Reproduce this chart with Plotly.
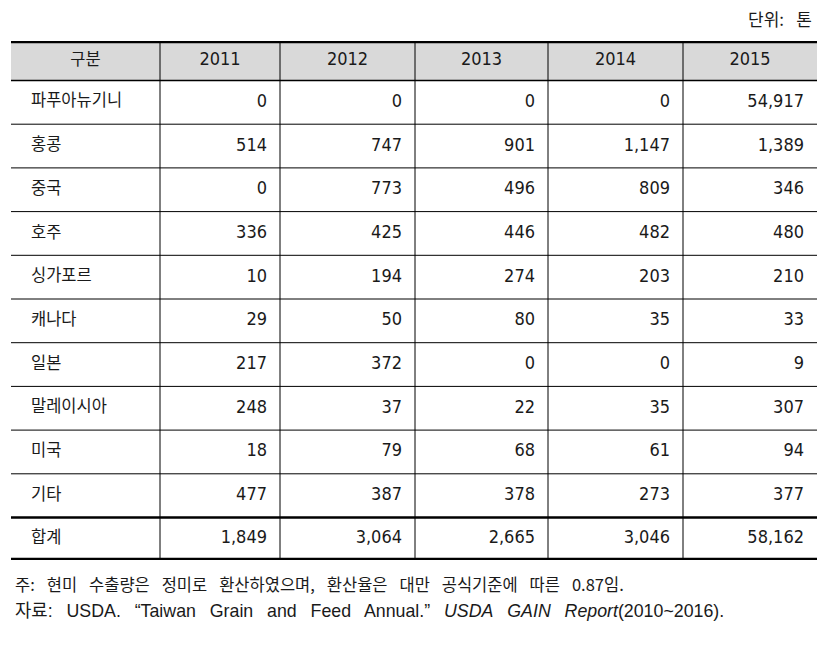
import plotly.graph_objects as go

# 대만 쌀 수출 상대국별 물량 (단위: 톤)
years = ["2011", "2012", "2013", "2014", "2015"]
countries = ["파푸아뉴기니", "홍콩", "중국", "호주", "싱가포르", "캐나다", "일본", "말레이시아", "미국", "기타"]
v2011 = [0, 514, 0, 336, 10, 29, 217, 248, 18, 477]
v2012 = [0, 747, 773, 425, 194, 50, 372, 37, 79, 387]
v2013 = [0, 901, 496, 446, 274, 80, 0, 22, 68, 378]
v2014 = [0, 1147, 809, 482, 203, 35, 0, 35, 61, 273]
v2015 = [54917, 1389, 346, 480, 210, 33, 9, 307, 94, 377]
totals = [1849, 3064, 2665, 3046, 58162]
header_first = "구분"
total_label = "합계"
unit_text = "단위: 톤"
note_text = "주: 현미 수출량은 정미로 환산하였으며, 환산율은 대만 공식기준에 따른 0.87임."
source_text = "자료: USDA. “Taiwan Grain and Feed Annual.” <i>USDA GAIN Report</i>(2010~2016)."

series = [v2011, v2012, v2013, v2014, v2015]

# layout in pixel units (page coords; body has an 8px margin)
col_edges = [11, 160, 280, 415, 548, 683, 817]
header_top, header_bot = 41, 80.5
row_h = 43.7
n = len(countries)
row_top = [header_bot + i * row_h for i in range(n)]
total_top = header_bot + n * row_h
table_bot = 560
row_mid = [t + row_h / 2 for t in row_top]
total_mid = (total_top + table_bot) / 2

NUMFONT = "DejaVu Sans Condensed, Liberation Sans Narrow, Noto Sans CJK KR, sans-serif"
KRFONT = "Noto Sans CJK KR, sans-serif"
TXT = "#1a1a1a"


def wide(s):
    return s.replace(" ", "\u2002 ")


fig = go.Figure()

# header
fig.add_trace(go.Scatter(
    x=[(col_edges[0] + col_edges[1]) / 2], y=[(header_top + header_bot) / 2],
    mode="text", text=[header_first], textposition="middle center",
    textfont=dict(family=KRFONT, size=16.5, color=TXT), hoverinfo="skip"))
fig.add_trace(go.Scatter(
    x=[(col_edges[j + 1] + col_edges[j + 2]) / 2 for j in range(len(years))],
    y=[(header_top + header_bot) / 2] * len(years),
    mode="text", text=years, textposition="middle center",
    textfont=dict(family=NUMFONT, size=18, color=TXT), hoverinfo="skip"))

# row labels
fig.add_trace(go.Scatter(
    x=[31] * (n + 1), y=row_mid + [total_mid], mode="text",
    text=countries + [total_label], textposition="middle right",
    textfont=dict(family=KRFONT, size=16.5, color=TXT), hoverinfo="skip"))

# values
for j, vals in enumerate(series):
    fig.add_trace(go.Scatter(
        x=[col_edges[j + 2] - 13] * (n + 1), y=row_mid + [total_mid], mode="text",
        text=[f"{v:,}" for v in vals + [totals[j]]], textposition="middle left",
        textfont=dict(family=NUMFONT, size=18, color=TXT), hoverinfo="skip"))

shapes = [dict(type="rect", xref="x", yref="y", x0=col_edges[0], x1=col_edges[-1],
               y0=header_top, y1=header_bot, fillcolor="#d9d9d9", line_width=0, layer="below")]


def hline(y, w):
    shapes.append(dict(type="line", xref="x", yref="y", x0=col_edges[0], x1=col_edges[-1],
                       y0=y, y1=y, line=dict(color="black", width=w)))


for x in col_edges[1:-1]:
    shapes.append(dict(type="line", xref="x", yref="y", x0=x, x1=x,
                       y0=header_top, y1=table_bot, line=dict(color="black", width=1)))
for t in row_top[1:]:
    hline(t, 1)
hline(header_bot, 1.5)
hline(total_top, 2.5)
hline(header_top + 1, 2.5)
hline(table_bot - 1, 2.5)

W, H, OFF = 831, 647, 8
fig.update_layout(
    width=W, height=H,
    margin=dict(l=col_edges[0] - OFF, r=W - (col_edges[-1] - OFF),
                t=header_top - OFF, b=H - (table_bot - OFF)),
    paper_bgcolor="white", plot_bgcolor="white",
    showlegend=False,
    shapes=shapes,
    xaxis=dict(range=[col_edges[0], col_edges[-1]], visible=False, fixedrange=True),
    yaxis=dict(range=[table_bot, header_top], visible=False, fixedrange=True),
    annotations=[
        dict(text=wide(unit_text), xref="paper", yref="paper", x=1.0, y=1.0, yshift=23,
             xanchor="right", yanchor="middle", showarrow=False, xshift=-3,
             font=dict(family=KRFONT, size=17, color=TXT)),
        dict(text=wide(note_text), xref="paper", yref="paper", x=0, y=0, xshift=2, yshift=-24,
             xanchor="left", yanchor="middle", showarrow=False,
             font=dict(family=KRFONT, size=16.5, color=TXT)),
        dict(text=wide(source_text),
             xref="paper", yref="paper", x=0, y=0, xshift=2, yshift=-51,
             xanchor="left", yanchor="middle", showarrow=False,
             font=dict(family="Liberation Sans, Noto Sans CJK KR", size=17.8, color=TXT)),
    ],
)

fig.write_html("out.html")
